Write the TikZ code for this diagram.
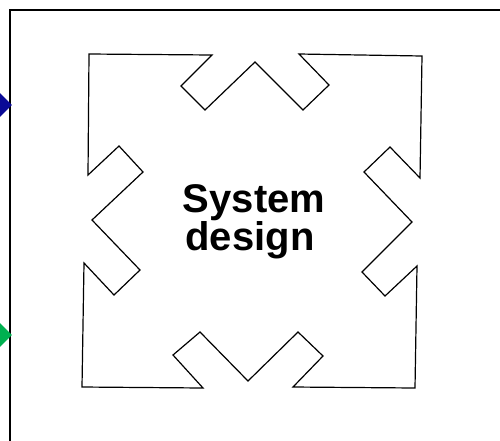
\documentclass[tikz,border=0pt]{standalone}
\usepackage{fontspec}
\setmainfont{Liberation Sans}
\usetikzlibrary{shapes.geometric}
\definecolor{portblue}{RGB}{10,10,150}
\definecolor{portgreen}{RGB}{0,176,80}
\tikzset{
  port/.style={diamond, draw=none, inner sep=0pt, minimum width=24pt, minimum height=24pt},
  outline/.style={draw=black, line width=1.2pt, line join=miter},
  frame/.style={draw=black, line width=1.6pt},
  label/.style={font=\fontsize{40}{36}\selectfont\bfseries, inner sep=0pt, anchor=base}
}
\begin{document}
\begin{tikzpicture}[x=1pt,y=-1pt]
\useasboundingbox (0,0) rectangle (500,440);
\fill[white] (0,0) rectangle (500,440);
% outer frame (continues past right and bottom edges)
\draw[frame] (10,460) -- (10,10) -- (520,10);
% ports
\node[port, fill=portblue] (pin) at (0,105) {};
\node[port, fill=portgreen] (pout) at (0,335) {};
% notched square shape
\draw[outline] (89,54) -- (212,55) -- (181,86) -- (205,110) -- (255,62) -- (303,110) -- (329,85) -- (299,54)
  -- (422,56) -- (420,178) -- (390,147) -- (364,172) -- (412,222) -- (362,272) -- (385,296) -- (417,266)
  -- (415,388) -- (293,387) -- (323,356) -- (298,332) -- (248,381) -- (200,332) -- (173,355) -- (203,388)
  -- (82,387) -- (84,263) -- (114,295) -- (140,270) -- (92,220) -- (143,172) -- (119,146) -- (88,175) -- cycle;
% text
\node[label] (l1) at (254,212) {System};
\node[label] (l2) at (250,250) {design};
\end{tikzpicture}
\end{document}
